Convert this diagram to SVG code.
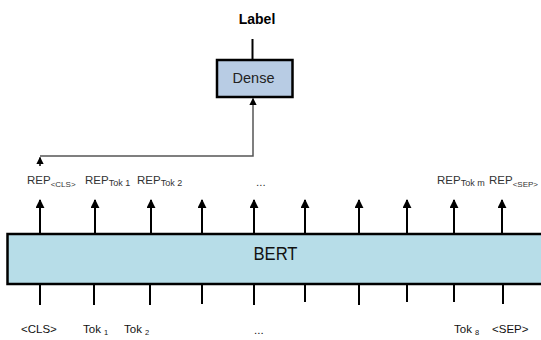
<svg xmlns="http://www.w3.org/2000/svg" width="541" height="340" viewBox="0 0 541 340">
  <defs>
    <marker id="up" viewBox="0 0 10 10" refX="9" refY="5" markerWidth="4.5" markerHeight="4.5" orient="auto" markerUnits="strokeWidth">
      <path d="M0,0 L10,5 L0,10 Z" fill="#000"/>
    </marker>
    <marker id="upGray" viewBox="0 0 10 10" refX="9" refY="5" markerWidth="5" markerHeight="5" orient="auto" markerUnits="strokeWidth">
      <path d="M0,0 L10,5 L0,10 Z" fill="#000"/>
    </marker>
  </defs>
  <style>
    text { font-family: "Liberation Sans", Arial, sans-serif; }
    .rep { font-size: 11.5px; fill: #333; }
    .sub { font-size: 8px; }
    .tok { font-size: 11.5px; fill: #111; }
    .out { stroke: #000; stroke-width: 2; fill: none; marker-end: url(#up); }
    .in { stroke: #000; stroke-width: 2; fill: none; }
  </style>
  <rect width="541" height="340" fill="#fff"/>

  <!-- output label -->
  <g id="label">
    <text x="257" y="24" text-anchor="middle" font-size="14" font-weight="bold" fill="#000">Label</text>
  </g>

  <!-- dense classification layer -->
  <g id="dense">
    <rect x="217" y="60" width="75.5" height="37" fill="#b8cce4" stroke="#000" stroke-width="2.5"/>
    <text x="253.5" y="82.5" text-anchor="middle" font-size="14.5" fill="#222">Dense</text>
  </g>

  <!-- BERT encoder -->
  <g id="bert">
    <rect x="7.5" y="234" width="545" height="50" fill="#b7dde8" stroke="#000" stroke-width="2.5"/>
    <text x="275.5" y="260" text-anchor="middle" font-size="18" textLength="44" lengthAdjust="spacingAndGlyphs" fill="#111">BERT</text>
  </g>

  <!-- output representations -->
  <g id="reps">
    <text class="rep" x="27" y="184">REP<tspan class="sub" dy="2.5">&lt;CLS&gt;</tspan></text>
    <text class="rep" x="85" y="184">REP<tspan font-size="9" dy="2">Tok 1</tspan></text>
    <text class="rep" x="137" y="184">REP<tspan font-size="9" dy="2">Tok 2</tspan></text>
    <text class="rep" x="256" y="186" font-size="8">...</text>
    <text class="rep" x="437" y="184">REP<tspan font-size="9" dy="2">Tok m</tspan></text>
    <text class="rep" x="489" y="184">REP<tspan class="sub" dy="2.5">&lt;SEP&gt;</tspan></text>
  </g>

  <!-- input tokens -->
  <g id="tokens">
    <text class="tok" x="21" y="333">&lt;CLS&gt;</text>
    <text class="tok" x="83" y="333">Tok <tspan font-size="7.5" dy="2">1</tspan></text>
    <text class="tok" x="124" y="333">Tok <tspan font-size="7.5" dy="2">2</tspan></text>
    <text class="tok" x="254" y="334">...</text>
    <text class="tok" x="454" y="333">Tok <tspan font-size="7.5" dy="2">8</tspan></text>
    <text class="tok" x="492" y="333">&lt;SEP&gt;</text>
  </g>

  <!-- connectors -->
  <g id="connectors">
    <!-- Label to Dense -->
    <line x1="252.5" y1="39" x2="252.5" y2="59" stroke="#000" stroke-width="2"/>
    <!-- CLS representation routed into Dense -->
    <path d="M40,156 H253 V98.5" fill="none" stroke="#555" stroke-width="1.5" marker-end="url(#upGray)"/>
    <path d="M40,166 V157.5" fill="none" stroke="#000" stroke-width="1.5" marker-end="url(#upGray)"/>
    <!-- BERT outputs -->
    <line class="out" x1="40" y1="233" x2="40" y2="200"/>
    <line class="out" x1="95" y1="233" x2="95" y2="200"/>
    <line class="out" x1="151" y1="233" x2="151" y2="200"/>
    <line class="out" x1="202" y1="233" x2="202" y2="200"/>
    <line class="out" x1="254" y1="233" x2="254" y2="200"/>
    <line class="out" x1="305" y1="233" x2="305" y2="200"/>
    <line class="out" x1="359" y1="233" x2="359" y2="200"/>
    <line class="out" x1="407" y1="233" x2="407" y2="200"/>
    <line class="out" x1="454" y1="233" x2="454" y2="200"/>
    <line class="out" x1="502" y1="233" x2="502" y2="200"/>
    <!-- BERT inputs -->
    <line class="in" x1="40" y1="285" x2="40" y2="305"/>
    <line class="in" x1="94" y1="285" x2="94" y2="305"/>
    <line class="in" x1="150" y1="285" x2="150" y2="305"/>
    <line class="in" x1="202" y1="285" x2="202" y2="304"/>
    <line class="in" x1="254" y1="285" x2="254" y2="305"/>
    <line class="in" x1="305" y1="285" x2="305" y2="302"/>
    <line class="in" x1="359" y1="285" x2="359" y2="305"/>
    <line class="in" x1="407" y1="285" x2="407" y2="302"/>
    <line class="in" x1="454" y1="285" x2="454" y2="302"/>
    <line class="in" x1="503" y1="285" x2="503" y2="304"/>
  </g>
</svg>
